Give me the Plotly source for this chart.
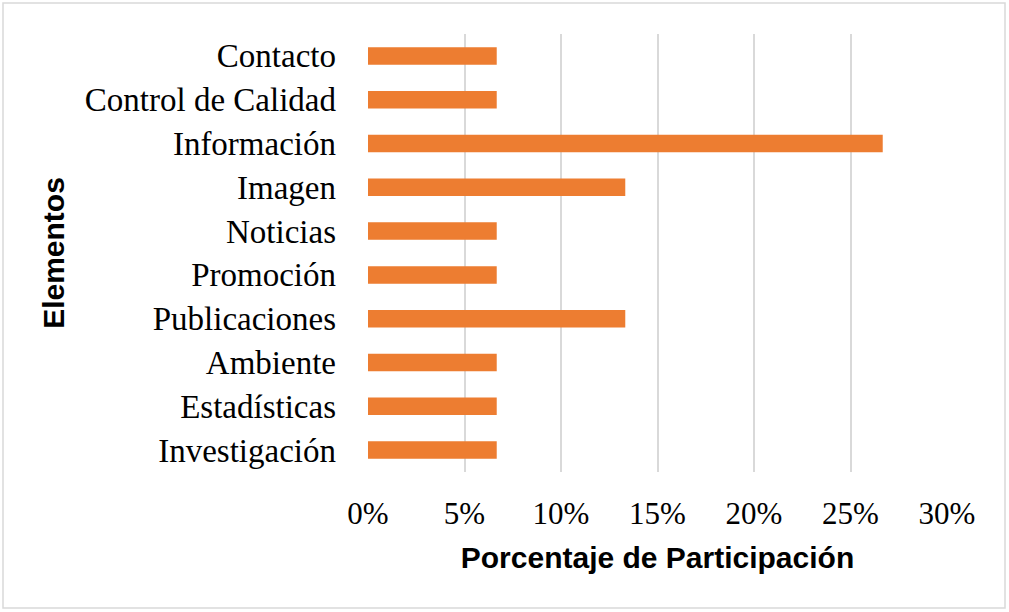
import plotly.graph_objects as go

# ----- Data ----- #
elementos = [
    "Contacto",
    "Control de Calidad",
    "Información",
    "Imagen",
    "Noticias",
    "Promoción",
    "Publicaciones",
    "Ambiente",
    "Estadísticas",
    "Investigación",
]
participacion = [0.0667, 0.0667, 0.2667, 0.1333, 0.0667, 0.0667, 0.1333, 0.0667, 0.0667, 0.0667]
x_ticks = [0, 0.05, 0.10, 0.15, 0.20, 0.25, 0.30]
x_tick_labels = ["0%", "5%", "10%", "15%", "20%", "25%", "30%"]

ORANGE = "#ED7D31"
GRID = "#D9D9D9"
SERIF = "Liberation Serif, Times New Roman, serif"
SANS = "Liberation Sans, Arial, sans-serif"

# ----- Plotting ----- #
fig = go.Figure()
fig.add_trace(
    go.Bar(
        x=participacion,
        y=elementos,
        orientation="h",
        marker_color=ORANGE,
        marker_line_width=0,
    )
)

W, H = 1009, 612
ml, mr, mt, mb = 368, 62, 34, 140

fig.update_layout(
    width=W,
    height=H,
    margin=dict(l=ml, r=mr, t=mt, b=mb, pad=0),
    paper_bgcolor="white",
    plot_bgcolor="white",
    bargap=0.6,
    showlegend=False,
    xaxis=dict(
        range=[0, 0.3],
        tickvals=x_ticks,
        ticktext=x_tick_labels,
        showgrid=True,
        gridcolor=GRID,
        gridwidth=1.5,
        zeroline=False,
        showline=False,
        ticks="",
        ticklabelstandoff=20,
        tickfont=dict(family=SERIF, size=31, color="black"),
        title=dict(
            text="<b>Porcentaje de Participación</b>",
            font=dict(family=SANS, size=30, color="black"),
            standoff=16,
        ),
    ),
    yaxis=dict(
        autorange="reversed",
        showgrid=False,
        zeroline=False,
        showline=False,
        ticks="",
        ticklabelstandoff=31,
        tickfont=dict(family=SERIF, size=33, color="black"),
        title=dict(
            text="<b>Elementos</b>",
            font=dict(family=SANS, size=30, color="black"),
            standoff=11,
        ),
    ),
)

# Outer chart border (paper coords relative to plot area)
pw, ph = W - ml - mr, H - mt - mb
fig.add_shape(
    type="rect",
    xref="paper",
    yref="paper",
    x0=(3 - ml) / pw,
    x1=(W - 4 - ml) / pw,
    y0=-(mb - 4) / ph,
    y1=1 + (mt - 3) / ph,
    line=dict(color=GRID, width=1.5),
    layer="below",
)

# Remove the default page margin so the figure fills the window
fig.write_html(
    "out.html",
    config={"displayModeBar": False},
    post_script="document.body.style.margin='0';",
)
